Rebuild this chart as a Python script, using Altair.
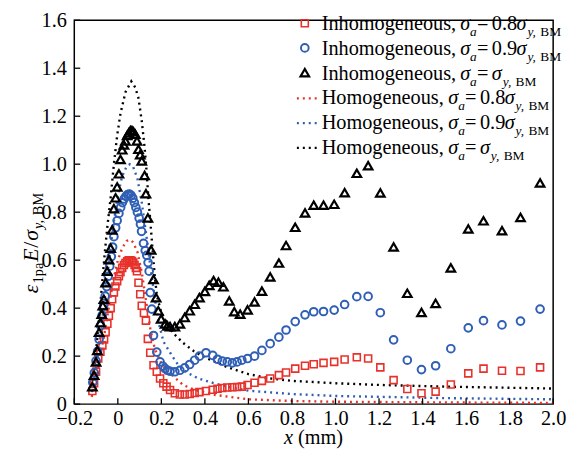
import altair as alt
import pandas as pd

# ---------------- data ----------------
RED, BLUE, BLACK = "#e8312b", "#2f5fb5", "#000000"

# Inhomogeneous, sigma_a = 0.8 sigma_y,BM  (red squares)
red_x = [-0.117, -0.109, -0.100, -0.090, -0.080, -0.071, -0.063, -0.056, -0.048, -0.041,
         -0.033, -0.026, -0.018, -0.011, -0.003, 0.005, 0.012, 0.020, 0.028, 0.035,
         0.043, 0.050, 0.058, 0.065, 0.071, 0.077, 0.083, 0.088, 0.095, 0.103,
         0.110, 0.120, 0.129, 0.138, 0.149, 0.164, 0.179, 0.194, 0.209, 0.224,
         0.240, 0.262, 0.285, 0.307, 0.330, 0.353, 0.375, 0.405, 0.436, 0.458,
         0.480, 0.503, 0.526, 0.548, 0.570, 0.596, 0.628, 0.662, 0.700, 0.740,
         0.773, 0.815, 0.860, 0.900, 0.945, 0.994, 1.042, 1.098, 1.150, 1.206,
         1.267, 1.330, 1.395, 1.460, 1.530, 1.610, 1.680, 1.765, 1.850, 1.940]
red_y = [0.055, 0.087, 0.135, 0.190, 0.218, 0.245, 0.270, 0.300, 0.335, 0.368,
         0.400, 0.437, 0.465, 0.490, 0.512, 0.533, 0.550, 0.568, 0.580, 0.588,
         0.595, 0.600, 0.600, 0.596, 0.590, 0.580, 0.568, 0.554, 0.506, 0.458,
         0.410, 0.380, 0.348, 0.272, 0.214, 0.162, 0.135, 0.107, 0.087, 0.073,
         0.059, 0.045, 0.040, 0.040, 0.042, 0.046, 0.050, 0.055, 0.060, 0.064,
         0.067, 0.069, 0.070, 0.071, 0.073, 0.080, 0.089, 0.097, 0.107, 0.121,
         0.132, 0.148, 0.160, 0.166, 0.172, 0.176, 0.186, 0.195, 0.190, 0.153,
         0.100, 0.063, 0.045, 0.052, 0.082, 0.128, 0.148, 0.139, 0.138, 0.153]

# Inhomogeneous, sigma_a = 0.9 sigma_y,BM  (blue circles)
blue_x = [-0.115, -0.108, -0.100, -0.093, -0.086, -0.079, -0.072, -0.065, -0.058, -0.051,
          -0.044, -0.037, -0.030, -0.024, -0.018, -0.010, -0.003, 0.005, 0.013, 0.021,
          0.029, 0.037, 0.045, 0.053, 0.061, 0.069, 0.076, 0.083, 0.090, 0.098,
          0.104, 0.109, 0.118, 0.126, 0.133, 0.139, 0.144, 0.149, 0.156, 0.164,
          0.179, 0.194, 0.207, 0.217, 0.228,
          0.240, 0.262, 0.285, 0.307, 0.330, 0.353, 0.375, 0.405, 0.436, 0.458,
          0.480, 0.503, 0.526, 0.548, 0.570, 0.596, 0.628, 0.662, 0.700, 0.740,
          0.773, 0.815, 0.860, 0.900, 0.945, 0.994, 1.042, 1.098, 1.150, 1.206,
          1.267, 1.330, 1.395, 1.460, 1.530, 1.610, 1.680, 1.765, 1.850, 1.940]
blue_y = [0.090, 0.130, 0.180, 0.220, 0.270, 0.327, 0.370, 0.410, 0.450, 0.490,
          0.533, 0.575, 0.615, 0.655, 0.698, 0.735, 0.765, 0.795, 0.820, 0.840,
          0.855, 0.866, 0.873, 0.875, 0.870, 0.858, 0.840, 0.820, 0.800, 0.775,
          0.750, 0.720, 0.670, 0.640, 0.620, 0.590, 0.554, 0.465, 0.396, 0.286,
          0.217, 0.176, 0.158, 0.148, 0.141,
          0.137, 0.135, 0.141, 0.151, 0.165, 0.183, 0.200, 0.214, 0.203, 0.187,
          0.179, 0.176, 0.172, 0.176, 0.183, 0.190, 0.200, 0.224, 0.252, 0.279,
          0.309, 0.344, 0.372, 0.385, 0.386, 0.392, 0.415, 0.448, 0.449, 0.381,
          0.268, 0.183, 0.144, 0.160, 0.231, 0.318, 0.348, 0.330, 0.346, 0.396]

# Inhomogeneous, sigma_a = sigma_y,BM  (black triangles)
blk_x = [-0.117, -0.109, -0.100, -0.094, -0.086, -0.080, -0.074, -0.069, -0.064, -0.056,
         -0.049, -0.041, -0.033, -0.026, -0.018, -0.010, -0.003, 0.005, 0.012, 0.020,
         0.028, 0.035, 0.043, 0.050, 0.058, 0.065, 0.072, 0.080, 0.088, 0.095,
         0.103, 0.110, 0.123, 0.129, 0.138, 0.153, 0.164, 0.176, 0.186, 0.199,
         0.217, 0.228,
         0.240, 0.262, 0.285, 0.307, 0.330, 0.353, 0.375, 0.400, 0.420, 0.440,
         0.462, 0.485, 0.512, 0.535, 0.562, 0.596, 0.628, 0.662, 0.700, 0.740,
         0.773, 0.815, 0.860, 0.900, 0.945, 0.994, 1.042, 1.098, 1.150, 1.206,
         1.267, 1.330, 1.395, 1.460, 1.530, 1.610, 1.680, 1.765, 1.850, 1.940]
blk_y = [0.073, 0.121, 0.176, 0.224, 0.300, 0.340, 0.375, 0.410, 0.437, 0.506,
         0.554, 0.602, 0.650, 0.726, 0.815, 0.860, 0.905, 0.960, 1.020, 1.060,
         1.080, 1.097, 1.120, 1.130, 1.140, 1.140, 1.135, 1.125, 1.097, 1.062,
         1.040, 1.014, 0.953, 0.877, 0.776, 0.643, 0.520, 0.444, 0.389, 0.355,
         0.334, 0.326,
         0.323, 0.323, 0.334, 0.361, 0.389, 0.416, 0.444, 0.470, 0.495, 0.515,
         0.508, 0.489, 0.430, 0.385, 0.375, 0.393, 0.426, 0.471, 0.530, 0.588,
         0.661, 0.737, 0.797, 0.829, 0.829, 0.833, 0.881, 0.962, 0.994, 0.880,
         0.655, 0.462, 0.382, 0.420, 0.568, 0.730, 0.764, 0.723, 0.778, 0.922]

# Homogeneous curves (dotted lines)
hred_x = [-0.12, -0.10, -0.08, -0.06, -0.04, -0.02, 0.00, 0.02, 0.04, 0.055, 0.07, 0.09,
          0.11, 0.13, 0.15, 0.17, 0.20, 0.23, 0.25, 0.30, 0.35, 0.45, 0.60, 0.80, 1.00,
          1.50, 2.00]
hred_y = [0.03, 0.10, 0.20, 0.30, 0.41, 0.52, 0.60, 0.65, 0.68, 0.685, 0.675, 0.635,
          0.55, 0.43, 0.31, 0.23, 0.17, 0.135, 0.12, 0.08, 0.06, 0.038, 0.020, 0.013, 0.010,
          0.007, 0.005]
hblue_x = [-0.12, -0.10, -0.08, -0.06, -0.04, -0.02, 0.00, 0.02, 0.04, 0.055, 0.07, 0.09,
           0.11, 0.13, 0.15, 0.17, 0.19, 0.21, 0.25, 0.28, 0.32, 0.37, 0.45, 0.50, 0.60,
           0.80, 1.00, 1.50, 2.00]
hblue_y = [0.05, 0.15, 0.29, 0.44, 0.60, 0.75, 0.87, 0.95, 0.99, 1.00, 0.99, 0.94,
           0.84, 0.71, 0.57, 0.44, 0.33, 0.26, 0.20, 0.16, 0.13, 0.107, 0.085, 0.073, 0.056,
           0.042, 0.034, 0.025, 0.020]
hblk_x = [-0.12, -0.10, -0.08, -0.06, -0.048, -0.033, -0.018, -0.003, 0.012, 0.035, 0.062,
          0.08, 0.095, 0.11, 0.123, 0.133, 0.14, 0.149, 0.16, 0.17, 0.18, 0.20, 0.25, 0.30,
          0.35, 0.40, 0.50, 0.60, 0.70, 0.80, 1.00, 1.20, 1.50, 2.00]
hblk_y = [0.07, 0.22, 0.42, 0.63, 0.74, 0.86, 1.00, 1.12, 1.21, 1.30, 1.345,
          1.32, 1.275, 1.18, 1.07, 0.96, 0.863, 0.767, 0.64, 0.53, 0.45, 0.38, 0.30, 0.255,
          0.22, 0.195, 0.155, 0.125, 0.107, 0.097, 0.087, 0.080, 0.073, 0.065]

x_ticks = [-0.2, 0.0, 0.2, 0.4, 0.6, 0.8, 1.0, 1.2, 1.4, 1.6, 1.8, 2.0]
y_ticks = [0.0, 0.2, 0.4, 0.6, 0.8, 1.0, 1.2, 1.4, 1.6]

hom_names = ["H08", "H09", "H10"]
hom_colors = [RED, BLUE, BLACK]

# ---------------- layout ----------------
W, H = 484, 388
OX, OY = 75, 18          # absolute page position of the plot origin
FONT = "Liberation Serif"
FS, SFS = 20.5, 13.5

xs = alt.Scale(domain=[-0.2, 2.0], nice=False, zero=False)
ys = alt.Scale(domain=[0.0, 1.6], nice=False, zero=False)
lab = "datum.value == 0 ? '0' : format(datum.value, '.1f')"
xax = alt.Axis(values=x_ticks, title=None, domain=False, ticks=False, grid=False,
               labelFont=FONT, labelFontSize=FS, labelColor="black", labelPadding=5,
               labelExpr=lab, labelFlush=False, labelOverlap=False)
yax = alt.Axis(values=y_ticks, title=None, domain=False, ticks=False, grid=False,
               labelFont=FONT, labelFontSize=FS, labelColor="black", labelPadding=8,
               labelExpr=lab, labelFlush=False, labelOverlap=False)
X = alt.X("x:Q", scale=xs, axis=xax)
Y = alt.Y("y:Q", scale=ys, axis=yax)

hom = pd.concat([
    pd.DataFrame({"x": hred_x, "y": hred_y, "s": "H08"}),
    pd.DataFrame({"x": hblue_x, "y": hblue_y, "s": "H09"}),
    pd.DataFrame({"x": hblk_x, "y": hblk_y, "s": "H10"}),
])

layers = []
layers.append(alt.Chart(hom).mark_line(strokeDash=[2, 4], strokeWidth=2.4).encode(
    x=X, y=Y, detail="s:N",
    color=alt.Color("s:N", scale=alt.Scale(domain=hom_names, range=hom_colors), legend=None)))

layers.append(alt.Chart(pd.DataFrame({"x": red_x, "y": red_y})).mark_point(
    shape="square", filled=False, color=RED, size=50, strokeWidth=1.6, opacity=1).encode(x=X, y=Y))
layers.append(alt.Chart(pd.DataFrame({"x": blue_x, "y": blue_y})).mark_point(
    shape="circle", filled=False, color=BLUE, size=60, strokeWidth=2, opacity=1).encode(x=X, y=Y))
layers.append(alt.Chart(pd.DataFrame({"x": blk_x, "y": blk_y})).mark_point(
    shape="triangle-up", filled=False, color=BLACK, size=75, strokeWidth=2.2, opacity=1).encode(x=X, y=Y))

# inward ticks
layers.append(alt.Chart(pd.DataFrame({"x": x_ticks})).mark_rule(color="black", strokeWidth=1.3).encode(
    x=X, y=alt.value(H), y2=alt.value(H - 6)))
layers.append(alt.Chart(pd.DataFrame({"y": y_ticks})).mark_rule(color="black", strokeWidth=1.3).encode(
    y=Y, x=alt.value(0), x2=alt.value(6)))

one = pd.DataFrame({"a": [0]})


def frag(text, ax, ay, size=FS, italic=False, angle=0):
    kw = dict(align="left", baseline="alphabetic", font=FONT, fontSize=size, color="black")
    if italic:
        kw["fontStyle"] = "italic"
    if angle:
        kw["angle"] = angle
    return alt.Chart(one).mark_text(**kw).encode(
        x=alt.value(ax - OX), y=alt.value(ay - OY), text=alt.value(text))


# legend
leg_rows = [
    ("Inhomogeneous,", "0.8", "square", RED),
    ("Inhomogeneous,", "0.9", "circle", BLUE),
    ("Inhomogeneous,", "", "triangle-up", BLACK),
    ("Homogeneous,", "0.8", "line", RED),
    ("Homogeneous,", "0.9", "line", BLUE),
    ("Homogeneous,", "", "line", BLACK),
]
row_base = [28, 53, 78, 103, 128, 153]
for (word, coef, kind, col), yb in zip(leg_rows, row_base):
    if kind == "line":
        layers.append(alt.Chart(one).mark_rule(color=col, strokeDash=[2, 4], strokeWidth=2.4).encode(
            x=alt.value(300 - OX), x2=alt.value(323 - OX), y=alt.value(yb - 6 - OY)))
    else:
        sz = {"square": 50, "circle": 60, "triangle-up": 75}[kind]
        sw = {"square": 1.6, "circle": 2, "triangle-up": 2.2}[kind]
        layers.append(alt.Chart(one).mark_point(shape=kind, filled=False, color=col, size=sz,
                                                strokeWidth=sw, opacity=1).encode(
            x=alt.value(308 - OX), y=alt.value(yb - 7 - OY)))
    layers.append(frag(word, 325, yb))
    x0 = 465 if word.startswith("In") else 453
    layers.append(frag("σ", x0, yb, italic=True))
    layers.append(frag("a", x0 + 10, yb + 6, size=SFS, italic=True))
    layers.append(frag("=", x0 + 17, yb))
    xc = x0 + 32
    if coef:
        layers.append(frag(coef, xc, yb))
        xc += 25
    layers.append(frag("σ", xc, yb, italic=True))
    layers.append(frag("y,", xc + 11, yb + 6, size=SFS, italic=True))
    layers.append(frag("BM", xc + 24, yb + 6, size=SFS))

# x-axis title
layers.append(frag("x", 287, 446, italic=True))
layers.append(frag("(mm)", 301, 446))

# y-axis title (rotated, reading upwards)
TFS, TSFS = 22, 14.5
yb0, xb = 294, 38
layers.append(frag("ε", xb, yb0, size=TFS, italic=True, angle=270))
layers.append(frag("1pa", xb + 5, yb0 - 10, size=TSFS, angle=270))
layers.append(frag("E", xb, yb0 - 32, size=TFS, italic=True, angle=270))
layers.append(frag("/", xb, yb0 - 46, size=TFS, angle=270))
layers.append(frag("σ", xb, yb0 - 53, size=TFS, italic=True, angle=270))
layers.append(frag("y,", xb + 5, yb0 - 65, size=TSFS, italic=True, angle=270))
layers.append(frag("BM", xb + 5, yb0 - 79, size=TSFS, angle=270))

chart = alt.layer(*layers).properties(
    width=W, height=H,
    padding={"left": OX - 8, "top": OY - 8, "right": 14, "bottom": 44},
    autosize=alt.AutoSizeParams(type="none"),
    background="white",
).configure_view(stroke="black", strokeWidth=1.5)

chart.save("out.html", embed_options={"renderer": "svg", "actions": False})
